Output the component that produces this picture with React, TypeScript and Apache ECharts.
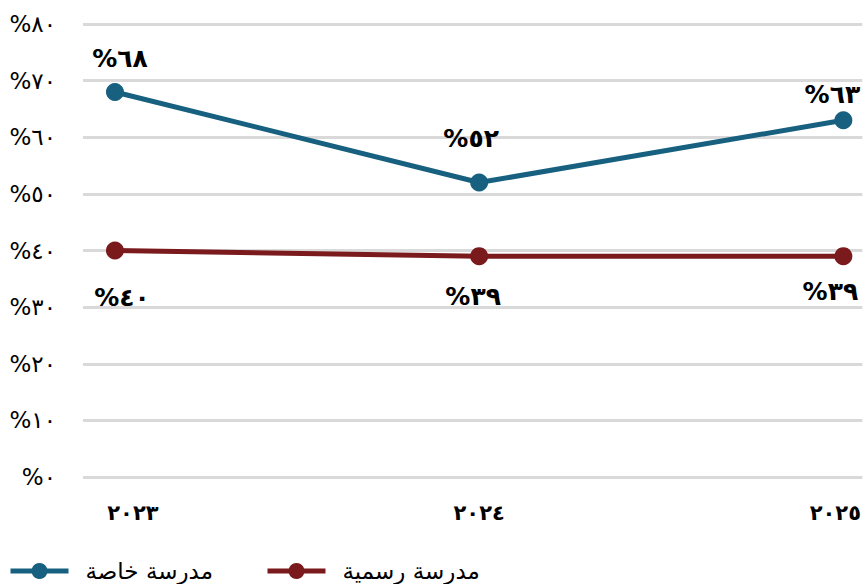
import React, { useEffect, useRef } from "react";
import * as echarts from "echarts";

const years = ["٢٠٢٣", "٢٠٢٤", "٢٠٢٥"];
const privateName = "مدرسة خاصة";
const publicName = "مدرسة رسمية";
const privateValues = [68, 52, 63];
const publicValues = [40, 39, 39];
const yTicks = [0, 10, 20, 30, 40, 50, 60, 70, 80];

// label offsets (style only)
const privateLabelOffsets = [[5, -33], [-8, -44], [-11, -26]];
const publicLabelOffsets = [[7, 47], [-6, 40], [-13, 35]];
const yearLabelShift = [36, 0, -16];

const AR_DIGITS = ["٠", "١", "٢", "٣", "٤", "٥", "٦", "٧", "٨", "٩"];
const toArabic = (n: number) =>
  String(n)
    .split("")
    .map((c) => (c >= "0" && c <= "9" ? AR_DIGITS[+c] : c))
    .join("");

const FONT = "DejaVu Sans";
const BLUE = "#17607f";
const RED = "#7a1a1c";

export default function App() {
  const ref = useRef<HTMLDivElement>(null);
  useEffect(() => {
    if (!ref.current) return;
    const chart = echarts.init(ref.current, undefined, { renderer: "svg" });
    const mk = (vals: number[], offs: number[][]) =>
      vals.map((v, i) => ({
        value: [i, v],
        label: { offset: offs[i] },
      }));
    const labelBase = {
      show: true,
      position: "inside",
      formatter: (p: any) => "%" + toArabic(p.value[1]),
      color: "#000",
      fontFamily: FONT,
      fontWeight: "bold",
      fontSize: 25,
    };
    const yearStyle = {
      color: "#000",
      fontFamily: FONT,
      fontSize: 21,
      fontWeight: "bold",
    };
    const rich: any = {};
    yearLabelShift.forEach((s, i) => {
      rich["y" + i] = {
        ...yearStyle,
        padding: s >= 0 ? [0, 0, 0, s] : [0, -s, 0, 0],
      };
    });
    chart.setOption({
      animation: false,
      backgroundColor: "#fff",
      grid: { left: 83, right: 0, top: 24, bottom: 107 },
      xAxis: {
        type: "value",
        min: -0.0877,
        max: 2.052,
        axisLine: { show: false },
        axisTick: { show: false },
        splitLine: { show: false },
        axisLabel: {
          customValues: [0, 1, 2],
          formatter: (v: number) => {
            const i = Math.round(v);
            return "{y" + i + "|" + years[i] + "}";
          },
          rich,
          ...yearStyle,
          margin: 25,
        },
      },
      yAxis: {
        type: "value",
        min: yTicks[0],
        max: yTicks[yTicks.length - 1],
        interval: 10,
        axisLine: { show: false },
        axisTick: { show: false },
        splitLine: { lineStyle: { color: "#d9d9d9", width: 3 } },
        axisLabel: {
          formatter: (v: number) => "%" + toArabic(v),
          color: "#000",
          fontFamily: FONT,
          fontSize: 23,
          margin: 27,
        },
      },
      legend: {
        left: 3,
        top: 554,
        itemWidth: 58,
        itemHeight: 20,
        itemGap: 52,
        lineStyle: { width: 5 },
        textStyle: {
          color: "#000",
          fontFamily: FONT,
          fontSize: 23,
          lineHeight: 24,
          padding: [0, 0, 0, 12],
        },
        data: [privateName, publicName],
      },
      series: [
        {
          name: privateName,
          type: "line",
          data: mk(privateValues, privateLabelOffsets),
          symbol: "circle",
          symbolSize: 18,
          lineStyle: { color: BLUE, width: 5 },
          itemStyle: { color: BLUE },
          label: labelBase,
          z: 3,
        },
        {
          name: publicName,
          type: "line",
          data: mk(publicValues, publicLabelOffsets),
          symbol: "circle",
          symbolSize: 18,
          lineStyle: { color: RED, width: 5 },
          itemStyle: { color: RED },
          label: labelBase,
          z: 2,
        },
      ],
    });
    return () => chart.dispose();
  }, []);
  return <div ref={ref} style={{ width: 864, height: 584, position: "fixed", left: 0, top: 0 }} />;
}
